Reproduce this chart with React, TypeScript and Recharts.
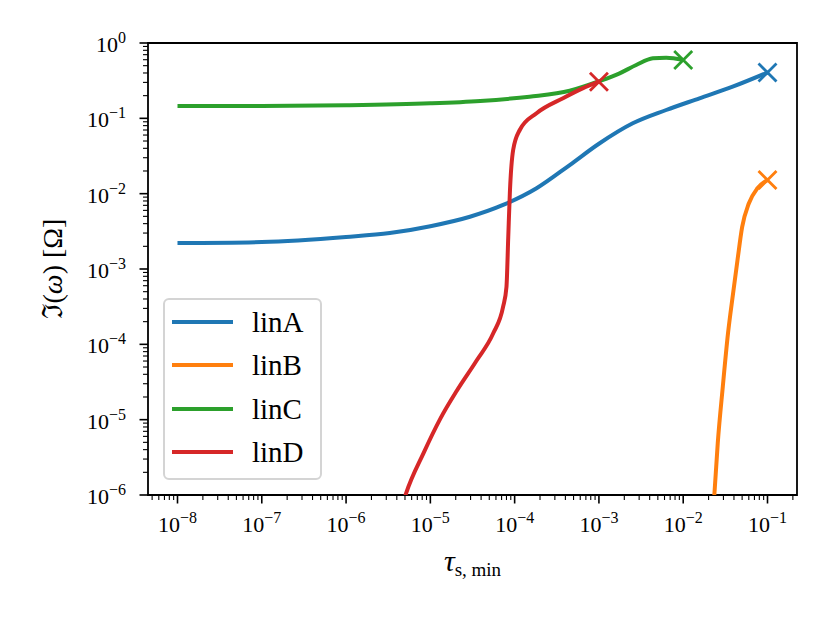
import React from "react";
import { LineChart, Line, XAxis, YAxis, Legend, ReferenceArea } from "recharts";

// values (tau_s,min vs Im part)
const linATau = [1e-8, 1e-7, 1e-6, 3.3e-6, 1e-5, 2.95e-5, 7.3e-5, 1.82e-4, 4.5e-4, 1e-3, 2.52e-3, 6.28e-3, 1.56e-2, 3.86e-2, 1e-1];
const linAVal = [2.21e-3, 2.28e-3, 2.66e-3, 3.0e-3, 3.7e-3, 4.94e-3, 7.08e-3, 0.0118, 0.024, 0.046, 0.0859, 0.129, 0.1845, 0.263, 0.405];

const linBTau = [0.0224, 0.0234, 0.0257, 0.0295, 0.034, 0.039, 0.044, 0.05, 0.06, 0.076, 0.1];
const linBVal = [4.5e-7, 1e-6, 4.9e-6, 2.75e-5, 1.4e-4, 4.7e-4, 1.3e-3, 3.6e-3, 7.4e-3, 0.0118, 0.0152];

const linCTau = [1e-8, 1e-7, 1e-6, 1e-5, 3.9e-5, 1.5e-4, 4.5e-4, 1e-3, 1.76e-3, 2.77e-3, 4.36e-3, 6.3e-3, 1e-2];
const linCVal = [0.146, 0.146, 0.149, 0.158, 0.17, 0.194, 0.232, 0.31, 0.396, 0.51, 0.626, 0.638, 0.594];

const linDTau = [4.6e-6, 5.15e-6, 8.3e-6, 1.3e-5, 2.05e-5, 3.54e-5, 5.57e-5, 7.3e-5, 8.0e-5, 8.4e-5, 8.77e-5, 9.6e-5, 1.15e-4, 1.82e-4, 3.75e-4, 6.4e-4, 1e-3];
const linDVal = [7e-7, 1.05e-6, 3.6e-6, 1.01e-5, 2.4e-5, 6.1e-5, 1.4e-4, 3.16e-4, 5.8e-4, 2.68e-3, 0.0101, 0.038, 0.07, 0.117, 0.185, 0.25, 0.307];

const xMajorTicks = [1e-8, 1e-7, 1e-6, 1e-5, 1e-4, 1e-3, 1e-2, 1e-1];
const yMajorTicks = [1e-6, 1e-5, 1e-4, 1e-3, 1e-2, 1e-1, 1];

const X_MIN = Math.pow(10, -8.35);
const X_MAX = Math.pow(10, -0.65);
const Y_MIN = 1e-6;
const Y_MAX = 1;

const FONT = "'Liberation Serif', 'DejaVu Serif', serif";

function withMinors(majors: number[], lo: number, hi: number) {
  const out: number[] = [];
  const first = Math.floor(Math.log10(lo));
  const last = Math.ceil(Math.log10(hi));
  for (let k = first; k <= last; k++) {
    for (let m = 1; m <= 9; m++) {
      const v = m * Math.pow(10, k);
      if (v >= lo && v <= hi) out.push(v);
    }
  }
  return out.length ? out : majors;
}

const xTicks = withMinors(xMajorTicks, X_MIN, X_MAX);
const yTicks = withMinors(yMajorTicks, Y_MIN, Y_MAX);

function isMajor(v: number) {
  const l = Math.log10(v);
  return Math.abs(l - Math.round(l)) < 1e-6;
}

function toPoints(tau: number[], val: number[]) {
  return tau.map((t, i) => ({ tau: t, val: val[i] }));
}

const series = [
  { name: "linA", color: "#1f77b4", data: toPoints(linATau, linAVal) },
  { name: "linB", color: "#ff7f0e", data: toPoints(linBTau, linBVal) },
  { name: "linC", color: "#2ca02c", data: toPoints(linCTau, linCVal) },
  { name: "linD", color: "#d62728", data: toPoints(linDTau, linDVal) },
];

function Pow10({ v, ...rest }: any) {
  const e = Math.round(Math.log10(v));
  const exp = e < 0 ? `\u2212${-e}` : `${e}`;
  return (
    <text fontFamily={FONT} fill="#000" {...rest}>
      <tspan fontSize={22}>10</tspan>
      <tspan fontSize={16} dy={-9}>{exp}</tspan>
    </text>
  );
}

function XTick(props: any) {
  const { x, y, payload } = props;
  const major = isMajor(payload.value);
  return (
    <g>
      <line x1={x} x2={x} y1={y} y2={y + (major ? 8.5 : 5)} stroke="#000" strokeWidth={major ? 1.6 : 1.1} />
      {major && <Pow10 v={payload.value} x={x} y={y + 37} textAnchor="middle" />}
    </g>
  );
}

function YTick(props: any) {
  const { x, y, payload } = props;
  const major = isMajor(payload.value);
  return (
    <g>
      <line x1={x} x2={x - (major ? 8.5 : 5)} y1={y} y2={y} stroke="#000" strokeWidth={major ? 1.6 : 1.1} />
      {major && <Pow10 v={payload.value} x={x - 22} y={y + 9} textAnchor="end" />}
    </g>
  );
}

function endMarker(color: string, last: number) {
  return (props: any) => {
    const { cx, cy, index } = props;
    if (index !== last || cx == null || cy == null) return <g key={`m-${index}`} />;
    const s = 9;
    return (
      <path
        key={`m-${index}`}
        d={`M${cx - s},${cy - s}L${cx + s},${cy + s}M${cx - s},${cy + s}L${cx + s},${cy - s}`}
        stroke={color}
        strokeWidth={2.8}
        fill="none"
      />
    );
  };
}

function XLabel(props: any) {
  const vb = props.viewBox || { x: 148, y: 495, width: 649, height: 80 };
  return (
    <text x={vb.x + vb.width / 2} y={vb.y + 76} textAnchor="middle" fontFamily={FONT} fill="#000">
      <tspan fontSize={30} fontStyle="italic">τ</tspan>
      <tspan fontSize={19} dy={5}>s, min</tspan>
    </text>
  );
}

function YLabel(props: any) {
  const vb = props.viewBox || { x: 20, y: 43, width: 128, height: 452 };
  const cx = vb.x + 42;
  const cy = vb.y + vb.height / 2;
  return (
    <text
      x={cx}
      y={cy}
      textAnchor="middle"
      transform={`rotate(-90, ${cx}, ${cy})`}
      fontFamily={FONT}
      fontSize={28}
      fill="#000"
    >
      <tspan>ℑ(</tspan>
      <tspan fontStyle="italic">ω</tspan>
      <tspan>) [Ω]</tspan>
    </text>
  );
}

function LegendBox() {
  return (
    <div
      style={{
        position: "relative",
        boxSizing: "border-box",
        width: 159,
        height: 182,
        border: "2px solid #d4d4d4",
        borderRadius: 6,
        background: "rgba(255,255,255,0.8)",
        fontFamily: FONT,
      }}
    >
      {series.map((s, i) => (
        <div
          key={s.name}
          style={{
            position: "absolute",
            left: 0,
            top: 2 + i * 43.4,
            height: 40,
            display: "flex",
            alignItems: "center",
          }}
        >
          <div style={{ marginLeft: 7, width: 61, height: 4, background: s.color }} />
          <span style={{ marginLeft: 19, fontSize: 29, lineHeight: "40px", color: "#000" }}>{s.name}</span>
        </div>
      ))}
    </div>
  );
}

export default function App() {
  return (
    <div style={{ position: "absolute", left: 0, top: 0, width: 830, height: 623, background: "#fff" }}>
      <LineChart width={830} height={623} margin={{ top: 43, right: 33, left: 20, bottom: 48 }}>
        <XAxis
          dataKey="tau"
          type="number"
          scale="log"
          domain={[X_MIN, X_MAX]}
          allowDataOverflow
          ticks={xTicks}
          interval={0}
          tick={(p: any) => <XTick {...p} />}
          tickLine={false}
          axisLine={false}
          tickSize={0}
          tickMargin={0}
          height={80}
          label={(p: any) => <XLabel {...p} />}
        />
        <YAxis
          dataKey="val"
          type="number"
          scale="log"
          domain={[Y_MIN, Y_MAX]}
          allowDataOverflow
          ticks={yTicks}
          interval={0}
          tick={(p: any) => <YTick {...p} />}
          tickLine={false}
          axisLine={false}
          tickSize={0}
          tickMargin={0}
          width={128}
          label={(p: any) => <YLabel {...p} />}
        />
        <ReferenceArea
          x1={X_MIN}
          x2={X_MAX}
          y1={Y_MIN}
          y2={Y_MAX}
          fill="none"
          fillOpacity={0}
          stroke="#000"
          strokeWidth={1.8}
          ifOverflow="visible"
        />
        {series.map((s) => (
          <Line
            key={s.name}
            name={s.name}
            data={s.data}
            dataKey="val"
            type="monotone"
            stroke={s.color}
            strokeWidth={4}
            dot={endMarker(s.color, s.data.length - 1)}
            activeDot={false}
            isAnimationActive={false}
          />
        ))}
        <Legend
          layout="vertical"
          align="center"
          verticalAlign="middle"
          wrapperStyle={{ left: 163, top: 298, width: 159, height: 182 }}
          content={() => <LegendBox />}
        />
      </LineChart>
    </div>
  );
}
